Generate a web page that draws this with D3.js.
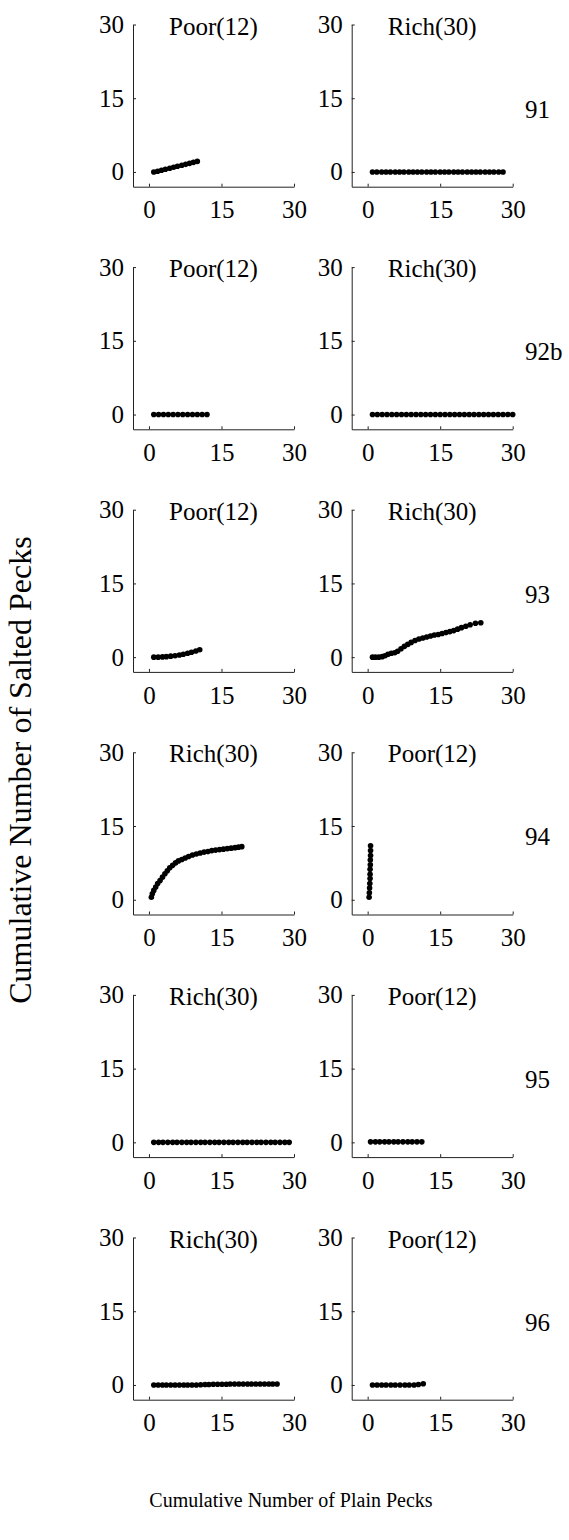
<!DOCTYPE html>
<html>
<head>
<meta charset="utf-8">
<script src="https://cdn.jsdelivr.net/npm/d3@7"></script>
<style>
  html, body { margin: 0; padding: 0; background: #fff; }
  svg text { font-family: "Liberation Serif", "Times New Roman", serif; }
</style>
</head>
<body>
<svg id="chart" width="569" height="1540"></svg>
<script>
// Session labels (one per row) and the food condition shown in each column
const rowLabels = ["91", "92b", "93", "94", "95", "96"];
const leftTitles = ["Poor(12)", "Poor(12)", "Poor(12)", "Rich(30)", "Rich(30)", "Rich(30)"];
const rightTitles = ["Rich(30)", "Rich(30)", "Rich(30)", "Poor(12)", "Poor(12)", "Poor(12)"];
const xTicks = [0, 15, 30];
const yTicks = [0, 15, 30];

// Cumulative plain pecks (x) and salted pecks (y), one pair of arrays per panel
const plain91Poor = [1.0, 1.8, 2.6, 3.4, 4.3, 5.1, 5.9, 6.8, 7.6, 8.4, 9.2, 10.0];
const salted91Poor = [0.0, 0.15, 0.35, 0.55, 0.75, 0.95, 1.15, 1.35, 1.55, 1.75, 1.95, 2.15];
const plain91Rich = [1.0, 1.9, 2.9, 3.8, 4.7, 5.7, 6.6, 7.5, 8.5, 9.4, 10.3, 11.2, 12.2, 13.1, 14.0, 15.0, 15.9, 16.8, 17.8, 18.7, 19.6, 20.6, 21.5, 22.4, 23.3, 24.3, 25.2, 26.1, 27.1, 28.0];
const salted91Rich = [0, 0, 0, 0, 0, 0, 0, 0, 0, 0, 0, 0, 0, 0, 0, 0, 0, 0, 0, 0, 0, 0, 0, 0, 0, 0, 0, 0, 0, 0];

const plain92bPoor = [1, 2, 3, 4, 5, 6, 7, 8, 9, 10, 11, 12];
const salted92bPoor = [0, 0, 0, 0, 0, 0, 0, 0, 0, 0, 0, 0];
const plain92bRich = [1, 2, 3, 4, 5, 6, 7, 8, 9, 10, 11, 12, 13, 14, 15, 16, 17, 18, 19, 20, 21, 22, 23, 24, 25, 26, 27, 28, 29, 30];
const salted92bRich = [0, 0, 0, 0, 0, 0, 0, 0, 0, 0, 0, 0, 0, 0, 0, 0, 0, 0, 0, 0, 0, 0, 0, 0, 0, 0, 0, 0, 0, 0];

const plain93Poor = [1.0, 1.9, 2.8, 3.6, 4.5, 5.4, 6.3, 7.1, 8.0, 8.8, 9.7, 10.5];
const salted93Poor = [0.0, 0.0, 0.05, 0.1, 0.2, 0.3, 0.45, 0.6, 0.8, 1.0, 1.25, 1.5];
const plain93Rich = [1.0, 1.6, 2.3, 3.0, 3.6, 4.2, 4.9, 5.6, 6.2, 6.9, 7.6, 8.3, 9.0, 9.8, 10.6, 11.4, 12.2, 13.0, 13.8, 14.6, 15.4, 16.2, 17.0, 17.8, 18.6, 19.4, 20.3, 21.2, 22.3, 23.4];
const salted93Rich = [0.0, 0.0, 0.0, 0.1, 0.3, 0.6, 0.8, 0.9, 1.2, 1.7, 2.2, 2.6, 3.0, 3.4, 3.7, 3.9, 4.1, 4.3, 4.5, 4.6, 4.8, 5.0, 5.2, 5.4, 5.7, 6.0, 6.3, 6.6, 6.9, 7.0];

const plain94Rich = [0.5, 0.7, 1.0, 1.4, 1.8, 2.3, 2.8, 3.3, 3.8, 4.3, 4.9, 5.5, 6.1, 6.8, 7.5, 8.2, 9.0, 9.8, 10.6, 11.4, 12.2, 13.0, 13.8, 14.6, 15.4, 16.2, 17.0, 17.8, 18.5, 19.2];
const salted94Rich = [0.5, 1.2, 1.9, 2.6, 3.3, 3.9, 4.6, 5.3, 5.9, 6.5, 7.0, 7.5, 7.9, 8.2, 8.5, 8.8, 9.1, 9.3, 9.5, 9.7, 9.8, 10.0, 10.1, 10.2, 10.3, 10.4, 10.5, 10.6, 10.7, 10.8];
const plain94Poor = [0.3, 0.35, 0.4, 0.45, 0.5, 0.5, 0.5, 0.55, 0.55, 0.6, 0.6, 0.6];
const salted94Poor = [0.5, 1.4, 2.4, 3.3, 4.3, 5.2, 6.2, 7.1, 8.1, 9.0, 10.0, 11.0];

const plain95Rich = [1.0, 2.0, 2.9, 3.9, 4.9, 5.8, 6.8, 7.8, 8.7, 9.7, 10.7, 11.6, 12.6, 13.6, 14.5, 15.5, 16.5, 17.4, 18.4, 19.4, 20.3, 21.3, 22.3, 23.2, 24.2, 25.2, 26.1, 27.1, 28.1, 29.0];
const salted95Rich = [0, 0, 0, 0, 0, 0, 0, 0, 0, 0, 0, 0, 0, 0, 0, 0, 0, 0, 0, 0, 0, 0, 0, 0, 0, 0, 0, 0, 0, 0];
const plain95Poor = [0.6, 1.6, 2.5, 3.5, 4.4, 5.4, 6.3, 7.3, 8.3, 9.2, 10.2, 11.2];
const salted95Poor = [0.1, 0.1, 0.1, 0.1, 0.1, 0.1, 0.1, 0.1, 0.1, 0.1, 0.1, 0.1];

const plain96Rich = [1.0, 1.9, 2.8, 3.6, 4.5, 5.4, 6.3, 7.2, 8.0, 8.9, 9.8, 10.7, 11.6, 12.4, 13.3, 14.2, 15.1, 16.0, 16.8, 17.7, 18.6, 19.5, 20.4, 21.2, 22.1, 23.0, 23.9, 24.8, 25.6, 26.5];
const salted96Rich = [0, 0, 0, 0, 0, 0, 0, 0, 0, 0, 0, 0.05, 0.1, 0.1, 0.15, 0.15, 0.15, 0.15, 0.2, 0.2, 0.2, 0.2, 0.2, 0.2, 0.2, 0.2, 0.2, 0.2, 0.2, 0.2];
const plain96Poor = [1.0, 1.95, 2.9, 3.8, 4.8, 5.7, 6.7, 7.7, 8.6, 9.6, 10.5, 11.5];
const salted96Poor = [0, 0, 0, 0, 0, 0, 0, 0, 0, 0, 0.1, 0.25];

// Panel list: [row][column]
const panels = [
  [{ title: leftTitles[0], x: plain91Poor, y: salted91Poor }, { title: rightTitles[0], x: plain91Rich, y: salted91Rich }],
  [{ title: leftTitles[1], x: plain92bPoor, y: salted92bPoor }, { title: rightTitles[1], x: plain92bRich, y: salted92bRich }],
  [{ title: leftTitles[2], x: plain93Poor, y: salted93Poor }, { title: rightTitles[2], x: plain93Rich, y: salted93Rich }],
  [{ title: leftTitles[3], x: plain94Rich, y: salted94Rich }, { title: rightTitles[3], x: plain94Poor, y: salted94Poor }],
  [{ title: leftTitles[4], x: plain95Rich, y: salted95Rich }, { title: rightTitles[4], x: plain95Poor, y: salted95Poor }],
  [{ title: leftTitles[5], x: plain96Rich, y: salted96Rich }, { title: rightTitles[5], x: plain96Poor, y: salted96Poor }]
];

// Layout
const axW = 161, axH = 162.2;
const colX = [133, 351.7];
const rowTop = 24.5, rowStep = 242.6;
const fontSize = 25;
const serif = "Liberation Serif, Times New Roman, serif";

const x = d3.scaleLinear().domain([-3.3, 30]).range([0, axW]);
const y = d3.scaleLinear().domain([-3, 30]).range([axH, 0]);

const svg = d3.select("#chart");
svg.append("rect").attr("width", 569).attr("height", 1540).attr("fill", "#fff");

panels.forEach((row, r) => {
  row.forEach((p, c) => {
    const g = svg.append("g")
      .attr("transform", `translate(${colX[c]},${rowTop + r * rowStep})`);

    const xAxis = g.append("g")
      .attr("transform", `translate(0,${axH})`)
      .call(d3.axisBottom(x).tickValues(xTicks).tickSizeInner(-3).tickSizeOuter(0).tickPadding(14));
    const yAxis = g.append("g")
      .call(d3.axisLeft(y).tickValues(yTicks).tickSizeInner(-3).tickSizeOuter(0).tickPadding(9));

    [xAxis, yAxis].forEach(a => {
      a.attr("font-family", serif).attr("font-size", fontSize);
      a.selectAll("path, line").attr("stroke", "#222").attr("stroke-width", 1);
      a.selectAll("text").attr("fill", "#000").attr("font-family", serif);
    });

    g.append("text")
      .attr("x", axW / 2)
      .attr("y", 10)
      .attr("text-anchor", "middle")
      .attr("font-family", serif)
      .attr("font-size", fontSize)
      .text(p.title);

    g.append("g").selectAll("circle")
      .data(d3.range(p.x.length))
      .join("circle")
      .attr("cx", i => x(p.x[i]))
      .attr("cy", i => y(p.y[i]))
      .attr("r", 2.8)
      .attr("fill", "#000");
  });

  svg.append("text")
    .attr("x", 525)
    .attr("y", rowTop + r * rowStep + 93)
    .attr("font-family", serif)
    .attr("font-size", fontSize)
    .text(rowLabels[r]);
});

// Shared axis titles
svg.append("text")
  .attr("transform", "translate(31,770) rotate(-90)")
  .attr("text-anchor", "middle")
  .attr("font-family", serif)
  .attr("font-size", 32)
  .text("Cumulative Number of Salted Pecks");

svg.append("text")
  .attr("x", 291)
  .attr("y", 1507)
  .attr("text-anchor", "middle")
  .attr("font-family", serif)
  .attr("font-size", 20)
  .text("Cumulative Number of Plain Pecks");
</script>
</body>
</html>
